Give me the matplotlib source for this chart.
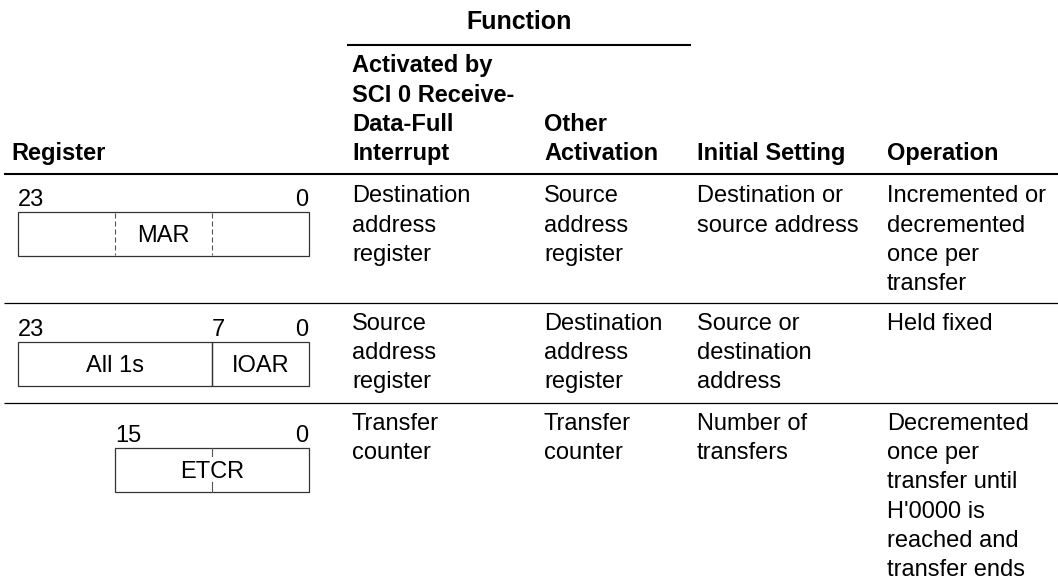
import matplotlib.pyplot as plt
from matplotlib.patches import Rectangle

plt.rcParams['font.family'] = ['Liberation Sans', 'DejaVu Sans']

# table content
group_title = "Function"
headers = ["Register",
           "Activated by\nSCI 0 Receive-\nData-Full\nInterrupt",
           "Other\nActivation",
           "Initial Setting",
           "Operation"]
interrupt_use = ["Destination\naddress\nregister",
                 "Source\naddress\nregister",
                 "Transfer\ncounter"]
other_use = ["Source\naddress\nregister",
             "Destination\naddress\nregister",
             "Transfer\ncounter"]
initial_setting = ["Destination or\nsource address",
                   "Source or\ndestination\naddress",
                   "Number of\ntransfers"]
operation = ["Incremented or\ndecremented\nonce per\ntransfer",
             "Held fixed",
             "Decremented\nonce per\ntransfer until\nH'0000 is\nreached and\ntransfer ends"]

# register diagrams: bit numbers shown, fields (name, msb, lsb), byte marks
reg_bit_labels = [[23, 0], [23, 7, 0], [15, 0]]
reg_fields = [[("MAR", 23, 0)],
              [("All 1s", 23, 8), ("IOAR", 7, 0)],
              [("ETCR", 15, 0)]]
reg_marks = [[16, 8], [], [8]]

W, H = 1058, 587
fig = plt.figure(figsize=(W / 100, H / 100), dpi=100)
ax = fig.add_axes([0, 0, 1, 1])
ax.set_xlim(0, W)
ax.set_ylim(H, 0)
ax.axis('off')

FS = 17
PITCH = 29.2
col_x = [11, 352, 544, 697, 887]
seps = [174, 303, 403]
first_base = [202.5, 330, 430]
box_top = [212, 342, 448]
box_h = 44
x_right, bit_w = 309, (309 - 18) / 24


def lines(x, y0, text, **kw):
    for i, s in enumerate(text.split("\n")):
        ax.text(x, y0 + i * PITCH, s, fontsize=FS, va='baseline', ha='left', **kw)


# header
ax.text(519, 29, group_title, fontsize=18, fontweight='bold', ha='center', va='baseline')
ax.plot([347, 691], [45, 45], color='black', lw=1.5, solid_capstyle='butt')
for x, h in zip(col_x, headers):
    n = h.count("\n")
    lines(x, 160 - n * PITCH, h, fontweight='bold')
ax.plot([4, W], [seps[0], seps[0]], color='black', lw=1.5, solid_capstyle='butt')
for y in seps[1:]:
    ax.plot([4, W], [y, y], color='black', lw=0.9, solid_capstyle='butt')

# text cells
for r in range(3):
    for x, col in zip(col_x[1:], [interrupt_use, other_use, initial_setting, operation]):
        lines(x, first_base[r], col[r])


def bx(b):
    return x_right - b * bit_w


# register diagrams
for r in range(3):
    top = box_top[r]
    for name, msb, lsb in reg_fields[r]:
        x0, x1 = bx(msb + 1), bx(lsb)
        ax.add_patch(Rectangle((x0, top), x1 - x0, box_h, fill=False,
                               edgecolor='#333333', lw=0.9))
        ax.text((x0 + x1) / 2, top + box_h / 2 + 8, name, fontsize=FS,
                ha='center', va='baseline')
    for b in reg_bit_labels[r]:
        if b == 0:
            ax.text(bx(0) - 1, top - 6, "0", fontsize=FS, ha='right', va='baseline')
        else:
            ax.text(bx(b + 1), top - 6, str(b), fontsize=FS, ha='left', va='baseline')
    for m in reg_marks[r]:
        if r == 0:
            ax.plot([bx(m), bx(m)], [top + 1, top + box_h - 1], color='#555555',
                    lw=0.8, ls=(0, (4.5, 2.7)))
        else:
            ax.plot([bx(m), bx(m)], [top, top + 8], color='#555555', lw=0.8)
            ax.plot([bx(m), bx(m)], [top + box_h - 10, top + box_h], color='#555555', lw=0.8)

fig.savefig("out.png", dpi=100)
